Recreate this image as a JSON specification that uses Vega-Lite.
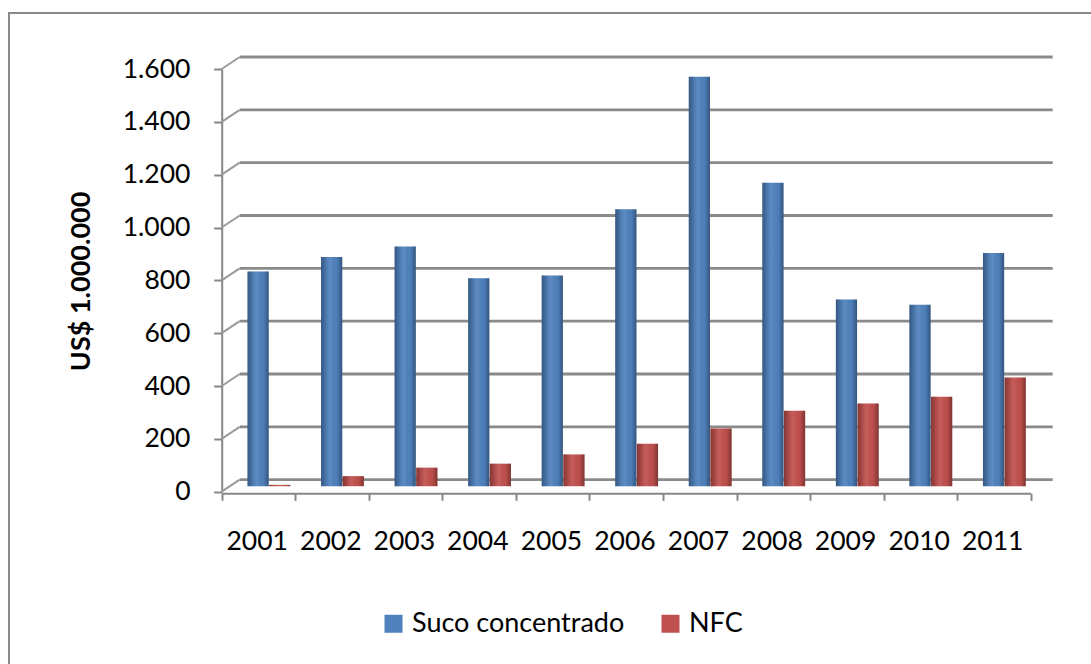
{
  "$schema": "https://vega.github.io/schema/vega-lite/v6.json",
  "width": 1084,
  "height": 653,
  "autosize": {"type": "none"},
  "padding": {"left": 9, "top": 13, "right": -2, "bottom": -2},
  "background": "white",
  "config": {
    "font": "Lato",
    "view": {"stroke": "#8a8a8a", "strokeWidth": 2, "fill": "white"}
  },
  "datasets": {
    "exports": [
      {"year": "2001", "serie": "Suco concentrado", "value": 810},
      {"year": "2002", "serie": "Suco concentrado", "value": 865},
      {"year": "2003", "serie": "Suco concentrado", "value": 905},
      {"year": "2004", "serie": "Suco concentrado", "value": 785},
      {"year": "2005", "serie": "Suco concentrado", "value": 795},
      {"year": "2006", "serie": "Suco concentrado", "value": 1045},
      {"year": "2007", "serie": "Suco concentrado", "value": 1545},
      {"year": "2008", "serie": "Suco concentrado", "value": 1145},
      {"year": "2009", "serie": "Suco concentrado", "value": 705},
      {"year": "2010", "serie": "Suco concentrado", "value": 685},
      {"year": "2011", "serie": "Suco concentrado", "value": 880},
      {"year": "2001", "serie": "NFC", "value": 5},
      {"year": "2002", "serie": "NFC", "value": 38},
      {"year": "2003", "serie": "NFC", "value": 70},
      {"year": "2004", "serie": "NFC", "value": 85},
      {"year": "2005", "serie": "NFC", "value": 120},
      {"year": "2006", "serie": "NFC", "value": 160},
      {"year": "2007", "serie": "NFC", "value": 218},
      {"year": "2008", "serie": "NFC", "value": 285},
      {"year": "2009", "serie": "NFC", "value": 312},
      {"year": "2010", "serie": "NFC", "value": 338},
      {"year": "2011", "serie": "NFC", "value": 410}
    ],
    "ticks": [
      {"v": 0}, {"v": 200}, {"v": 400}, {"v": 600}, {"v": 800},
      {"v": 1000}, {"v": 1200}, {"v": 1400}, {"v": 1600}
    ]
  },
  "resolve": {"scale": {"y": "independent"}, "axis": {"y": "independent"}},
  "layer": [
    {
      "description": "Back-wall gridlines and the front value axis",
      "data": {"name": "ticks"},
      "mark": {"type": "rule", "stroke": "#8a8a8a", "strokeWidth": 2.8, "xOffset": 18, "x2Offset": 22, "yOffset": -12},
      "encoding": {
        "x": {"datum": "2001", "type": "nominal", "bandPosition": 0, "title": null},
        "x2": {"datum": "2011", "bandPosition": 1},
        "y": {
          "field": "v", "type": "quantitative",
          "scale": {"domain": [0, 1600], "range": [478.7, 56], "nice": false, "zero": false},
          "axis": {
            "orient": "left",
            "offset": -212.7,
            "values": [0, 200, 400, 600, 800, 1000, 1200, 1400, 1600],
            "labelExpr": "replace(format(datum.value, ','), ',', '.')",
            "labelFontSize": 26.5,
            "labelColor": "#000000",
            "labelPadding": 23.7,
            "tickSize": 8,
            "tickWidth": 2,
            "tickColor": "#868686",
            "domainColor": "#868686",
            "domainWidth": 2,
            "grid": false,
            "title": "US$ 1.000.000",
            "titleFontSize": 27,
            "titleFontWeight": "bold",
            "titleColor": "#000000",
            "titleAngle": -90,
            "titleX": -140,
            "titleY": 267.9,
            "titleAlign": "center",
            "titleBaseline": "middle"
          }
        }
      }
    },
    {
      "description": "Side-wall edges joining each front tick to its gridline",
      "data": {"name": "ticks"},
      "mark": {"type": "rule", "stroke": "#9a9a9a", "strokeWidth": 2, "x2Offset": 18, "y2Offset": -12},
      "encoding": {
        "x": {"datum": "2001", "type": "nominal", "bandPosition": 0, "title": null},
        "x2": {"datum": "2001", "bandPosition": 0},
        "y": {"field": "v", "type": "quantitative", "scale": {"domain": [0, 1600], "range": [478.7, 56], "nice": false, "zero": false}, "axis": null},
        "y2": {"field": "v"}
      }
    },
    {
      "description": "Floor edge on the right",
      "mark": {"type": "rule", "stroke": "#9a9a9a", "strokeWidth": 2, "x2Offset": 22, "y2Offset": -11},
      "encoding": {
        "x": {"datum": "2011", "type": "nominal", "bandPosition": 1, "title": null},
        "x2": {"datum": "2011", "bandPosition": 1},
        "y": {"datum": 0, "type": "quantitative", "scale": {"domain": [0, 1600], "range": [478.7, 56], "nice": false, "zero": false}, "axis": null},
        "y2": {"datum": 0}
      }
    },
    {
      "description": "Export value bars",
      "data": {"name": "exports"},
      "mark": {"type": "bar"},
      "encoding": {
        "x": {
          "field": "year", "type": "nominal",
          "scale": {
            "domain": ["2001", "2002", "2003", "2004", "2005", "2006", "2007", "2008", "2009", "2010", "2011"],
            "range": [212.7, 1021.7],
            "paddingInner": 0,
            "paddingOuter": 0
          },
          "title": null,
          "axis": {
            "orient": "bottom",
            "offset": -172.7,
            "labelAngle": 0,
            "labelFontSize": 26.5,
            "labelColor": "#000000",
            "labelPadding": 41,
            "labelOffset": 29,
            "tickBand": "extent",
            "tickSize": 7,
            "tickWidth": 2,
            "tickColor": "#868686",
            "domainColor": "#868686",
            "domainWidth": 2,
            "grid": false
          }
        },
        "xOffset": {
          "field": "serie", "type": "nominal",
          "sort": ["Suco concentrado", "NFC"],
          "scale": {"paddingInner": 0.02, "paddingOuter": 0.71, "align": 0.84}
        },
        "y": {"field": "value", "type": "quantitative", "scale": {"domain": [0, 1600], "range": [473.2, 49.3], "nice": false}, "axis": null},
        "color": {
          "field": "serie", "type": "nominal",
          "sort": ["Suco concentrado", "NFC"],
          "scale": {"domain": ["Suco concentrado", "NFC"], "range": ["#4F81BD", "#C0504D"]},
          "legend": {
            "title": null,
            "orient": "none",
            "legendX": 371,
            "legendY": 597,
            "direction": "horizontal",
            "symbolType": "square",
            "symbolSize": 324,
            "symbolStrokeWidth": 0,
            "labelFontSize": 27,
            "labelLimit": 400,
            "labelColor": "#000000",
            "labelOffset": 5,
            "columnPadding": 32,
            "padding": 0
          }
        }
      }
    },
    {
      "description": "Cylinder shading over the bars",
      "data": {"name": "exports"},
      "mark": {
        "type": "bar",
        "fill": {
          "gradient": "linear", "x1": 0, "x2": 1, "y1": 0, "y2": 0,
          "stops": [
            {"offset": 0, "color": "rgba(0,0,0,0.32)"},
            {"offset": 0.18, "color": "rgba(0,0,0,0.14)"},
            {"offset": 0.45, "color": "rgba(255,255,255,0.08)"},
            {"offset": 0.75, "color": "rgba(0,0,0,0.02)"},
            {"offset": 1, "color": "rgba(0,0,0,0.34)"}
          ]
        }
      },
      "encoding": {
        "x": {"field": "year", "type": "nominal", "title": null},
        "xOffset": {"field": "serie", "type": "nominal", "sort": ["Suco concentrado", "NFC"]},
        "y": {"field": "value", "type": "quantitative", "scale": {"domain": [0, 1600], "range": [473.2, 49.3], "nice": false}, "axis": null}
      }
    }
  ]
}
